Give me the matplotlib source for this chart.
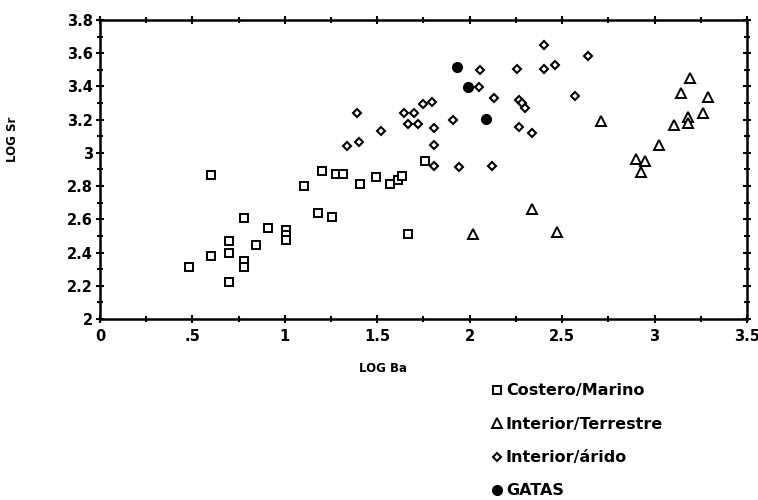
import matplotlib
matplotlib.use("Agg")
import matplotlib.pyplot as plt
from matplotlib.ticker import MultipleLocator, FixedLocator

# Costero/Marino (squares)
costero_x = [0.48, 0.60, 0.60, 0.70, 0.70, 0.70, 0.777, 0.777, 0.777, 0.844, 0.907,
             1.006, 1.006, 1.006, 1.105, 1.179, 1.199, 1.255, 1.275, 1.316, 1.404,
             1.493, 1.568, 1.61, 1.633, 1.666, 1.756]
costero_y = [2.312, 2.865, 2.377, 2.22, 2.40, 2.469, 2.61, 2.348, 2.316, 2.445, 2.545,
             2.538, 2.503, 2.477, 2.80, 2.636, 2.889, 2.612, 2.875, 2.875, 2.81,
             2.857, 2.813, 2.839, 2.859, 2.513, 2.954]

# Interior/Terrestre (triangles)
terrestre_x = [2.019, 2.336, 2.473, 2.71, 2.897, 2.924, 2.949, 3.023, 3.103, 3.144,
               3.18, 3.18, 3.193, 3.261, 3.29]
terrestre_y = [2.509, 2.664, 2.521, 3.193, 2.962, 2.885, 2.954, 3.048, 3.168, 3.36,
               3.217, 3.179, 3.448, 3.239, 3.336]

# Interior/árido (diamonds)
arido_x = [1.336, 1.392, 1.402, 1.52, 1.646, 1.666, 1.70, 1.72, 1.745, 1.797, 1.805,
           1.805, 1.805, 1.911, 1.943, 2.048, 2.057, 2.118, 2.129, 2.257, 2.266, 2.266,
           2.284, 2.297, 2.336, 2.403, 2.403, 2.462, 2.571, 2.641]
arido_y = [3.04, 3.241, 3.064, 3.13, 3.241, 3.173, 3.241, 3.173, 3.295, 3.307, 3.15,
           3.05, 2.921, 3.197, 2.913, 3.396, 3.497, 2.924, 3.33, 3.506, 3.319, 3.153,
           3.298, 3.273, 3.12, 3.651, 3.506, 3.53, 3.34, 3.585]

# GATAS (filled circles)
gatas_x = [1.929, 1.992, 2.088]
gatas_y = [3.517, 3.396, 3.207]

x_ticks = [0, 0.5, 1, 1.5, 2, 2.5, 3, 3.5]
x_ticklabels = ["0", ".5", "1", "1.5", "2", "2.5", "3", "3.5"]
y_ticks = [2, 2.2, 2.4, 2.6, 2.8, 3, 3.2, 3.4, 3.6, 3.8]
y_ticklabels = ["2", "2.2", "2.4", "2.6", "2.8", "3", "3.2", "3.4", "3.6", "3.8"]

labels = ["Costero/Marino", "Interior/Terrestre", "Interior/árido", "GATAS"]

plt.rcParams['font.family'] = ['DejaVu Sans']
plt.rcParams['font.weight'] = 'bold'

fig = plt.figure(figsize=(7.58, 5.0), dpi=100)
ax = fig.add_axes([100/758, 1 - 319/500, (747 - 100)/758, (319 - 20)/500])

mew = 1.4
h1, = ax.plot(costero_x, costero_y, ls='none', marker='s', ms=5.2, mfc='white',
              mec='black', mew=mew, label=labels[0])
h2, = ax.plot(terrestre_x, terrestre_y, ls='none', marker='^', ms=6.5, mfc='white',
              mec='black', mew=mew, label=labels[1])
h3, = ax.plot(arido_x, arido_y, ls='none', marker='D', ms=4.3, mfc='white',
              mec='black', mew=1.5, label=labels[2])
h4, = ax.plot(gatas_x, gatas_y, ls='none', marker='o', ms=7, mfc='black',
              mec='black', mew=1, label=labels[3])

ax.set_xlim(0, 3.5)
ax.set_ylim(2, 3.8)
ax.xaxis.set_major_locator(FixedLocator(x_ticks))
ax.set_xticklabels(x_ticklabels)
ax.xaxis.set_minor_locator(MultipleLocator(0.25))
ax.yaxis.set_major_locator(FixedLocator(y_ticks))
ax.set_yticklabels(y_ticklabels)
ax.yaxis.set_minor_locator(MultipleLocator(0.1))

for s in ax.spines.values():
    s.set_linewidth(1.8)

ax.tick_params(axis='both', which='both', direction='inout', width=1.5,
               top=True, right=True, labelsize=10.5)
ax.tick_params(axis='both', which='major', length=6)
ax.tick_params(axis='both', which='minor', length=5)
ax.tick_params(axis='x', pad=4)
ax.tick_params(axis='y', pad=2)
for lab in ax.get_xticklabels() + ax.get_yticklabels():
    lab.set_fontweight('bold')

ax.set_xlabel("LOG Ba", fontsize=8.5, fontweight='bold')
ax.set_ylabel("LOG Sr", fontsize=8.5, fontweight='bold')
ax.xaxis.set_label_coords(0.437, -0.145)
ax.yaxis.set_label_coords(-0.125, 0.60)

leg = fig.legend(handles=[h1, h2, h3, h4], labels=labels,
                 loc='upper left', bbox_to_anchor=(486/758, 1 - 377/500),
                 frameon=False, fontsize=11.5, handlelength=0.6,
                 handletextpad=0.25, labelspacing=1.15, borderaxespad=0)
for t in leg.get_texts():
    t.set_fontweight('bold')

fig.savefig("out.png", dpi=100)
